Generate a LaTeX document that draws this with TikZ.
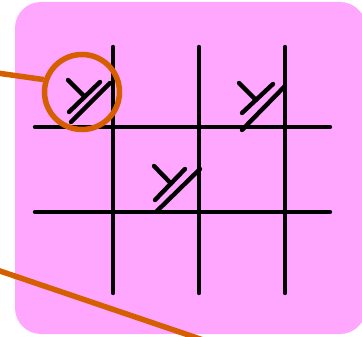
\documentclass[tikz,border=0pt]{standalone}
\usepackage{xcolor}
\usepackage{tikz}
\definecolor{boardpink}{RGB}{255,166,255}
\definecolor{lensorange}{RGB}{213,94,0}

\begin{document}
\begin{tikzpicture}
    [x=1pt, y=-1pt,
     gridline/.style={line width=4.4pt, line cap=round},
     zoomline/.style={draw=lensorange, line width=5.5pt}]
    \useasboundingbox (0,0) rectangle (362,337);
    \fill[boardpink, rounded corners=26pt] (15,2) rectangle (366,334);
    % board
    \draw[gridline] (113,47) -- (113,293);
    \draw[gridline] (199,47) -- (199,293);
    \draw[gridline] (285,47) -- (285,293);
    \draw[gridline] (35,127) -- (330,127);
    \draw[gridline] (35,212) -- (330,212);
    % marks
    \draw[gridline] (71,122) -- (110,83);
    \draw[gridline] (69,112) -- (100,82);
    \draw[gridline] (68,80) -- (84.5,96.5);
    \draw[gridline] (242,130) -- (285,86);
    \draw[gridline] (242,113) -- (273,84);
    \draw[gridline] (239,83) -- (256,100);
    \draw[gridline] (157,211) -- (200,169);
    \draw[gridline] (155,200) -- (185,169);
    \draw[gridline] (154,166) -- (171,183.5);
    % zoom
    \node[circle, draw=lensorange, line width=5.5pt, minimum size=75pt, inner sep=0pt] (lens) at (82,92) {};
    \coordinate (top) at (-3,73);
    \coordinate (lowa) at (-3,270);
    \coordinate (lowb) at (212,343);
    \draw[zoomline] (top) -- (lens.162);
    \draw[zoomline] (lowa) -- (lowb);
\end{tikzpicture}
\end{document}
